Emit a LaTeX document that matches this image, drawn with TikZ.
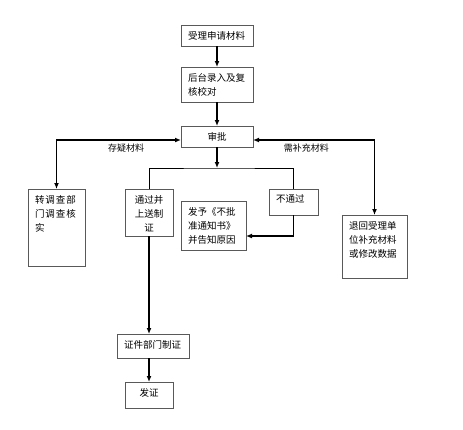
\documentclass[tikz,border=0pt]{standalone}
\usepackage{fontspec}
\newfontfamily\cjk{Noto Sans CJK SC}
\usepackage{tikz}
\usetikzlibrary{arrows.meta}
\tikzstyle{box} = [draw=black!65, line width=0.9pt, rectangle, anchor=north west, inner sep=0pt, outer sep=0pt, font=\cjk\fontsize{9.5}{14}\selectfont]
\tikzstyle{arrow} = [line width=1.3pt,-{Latex[length=6pt,width=5pt]}]
\tikzstyle{twoway} = [line width=1.3pt,{Latex[length=6pt,width=5pt]}-{Latex[length=6pt,width=5pt]}]
\tikzstyle{branch} = [line width=0.8pt]
\tikzstyle{tag} = [font=\cjk\fontsize{9}{11}\selectfont, inner sep=1pt]
\newcommand{\lefttext}[3]{\parbox[t][#2pt][t]{#1pt}{\vspace*{6pt}\raggedright\leftskip=7pt #3}}
\newcommand{\midtext}[3]{\parbox[t][#2pt][t]{#1pt}{\vspace*{6pt}\centering #3}}

\begin{document}
\begin{tikzpicture}[x=1pt, y=-1pt]
        \useasboundingbox (0,0) rectangle (463,429);
        % main column
        \node[box] (accept) at (181,25) {\lefttext{72}{21}{受理申请材料}};
        \node[box] (entry) at (181,67) {\lefttext{72}{35}{后台录入及复\\核校对}};
        \node[box] (approve) at (181,126) {\midtext{72}{21}{审批}};
        % outcomes
        \node[box] (inquiry) at (28,189) {\lefttext{57}{77}{\addfontfeature{LetterSpace=10}转调查部\\门调查核\\实}};
        \node[box] (pass) at (125,189) {\midtext{48}{47}{通过并\\上送制\\证}};
        \node[box] (notice) at (181,201) {\lefttext{65}{49}{发予《不批\\准通知书》\\并告知原因}};
        \node[box] (fail) at (269,189) {\lefttext{49}{26}{不通过}};
        \node[box] (return) at (342,215) {\lefttext{65}{63}{退回受理单\\位补充材料\\或修改数据}};
        \node[box] (make) at (117,334) {\lefttext{72}{24}{证件部门制证}};
        \node[box] (issue) at (125,382) {\midtext{48}{26}{发证}};

        \draw[arrow] (accept) -- (entry);
        \draw[arrow] (entry) -- (approve);
        \draw[twoway] (inquiry.north) |- ([yshift=-3.5pt]approve.west) node[tag, pos=0.78, below=2pt] {存疑材料};
        \draw[twoway] ([yshift=-3.5pt]approve.east) -| (return.north) node[tag, pos=0.22, below=2pt] {需补充材料};
        \draw[arrow] (approve.south) -- ++(0,21) coordinate (fork);
        \draw[branch] (pass.north) |- (fork) -| (fail.north);
        \draw[arrow] (fail.south) |- ([yshift=-10.5pt]notice.east);
        \draw[arrow] (pass.south) -- (pass.south |- make.north);
        \draw[arrow] (make.south -| issue.north) -- (issue.north);
    \end{tikzpicture}
\end{document}
